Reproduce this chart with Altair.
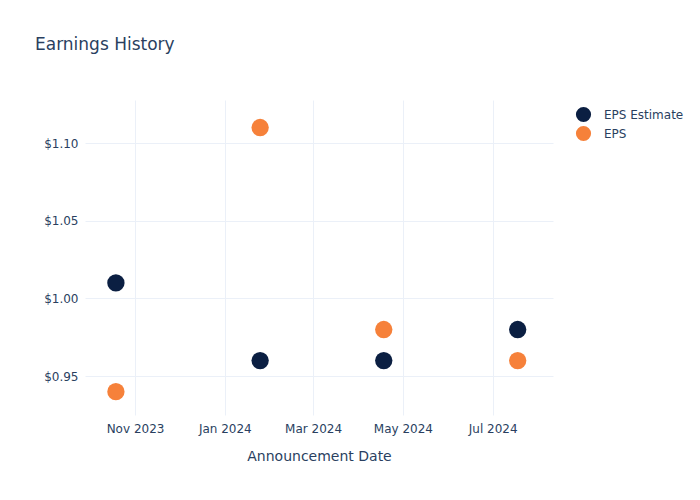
import altair as alt
import pandas as pd

dates = ["2023-10-19", "2024-01-25", "2024-04-18", "2024-07-18"]
eps_estimate = [1.01, 0.96, 0.96, 0.98]
eps_actual = [0.94, 1.11, 0.98, 0.96]
series_names = ["EPS Estimate", "EPS"]
series_colors = ["#0b1f42", "#f6813a"]
y_ticks = [0.95, 1.00, 1.05, 1.10]

rows = []
for d, e, a in zip(dates, eps_estimate, eps_actual):
    rows.append({"date": d, "series": "EPS Estimate", "value": e})
    rows.append({"date": d, "series": "EPS", "value": a})
df = pd.DataFrame(rows)

FONT = "DejaVu Sans"
TXT = "#2a3f5f"
GRID = "#ebf0f8"

x_ticks = [
    alt.DateTime(year=2023, month=11, date=1, utc=True),
    alt.DateTime(year=2024, month=1, date=1, utc=True),
    alt.DateTime(year=2024, month=3, date=1, utc=True),
    alt.DateTime(year=2024, month=5, date=1, utc=True),
    alt.DateTime(year=2024, month=7, date=1, utc=True),
]

chart = (
    alt.Chart(df)
    .mark_circle(opacity=1, size=300)
    .encode(
        x=alt.X(
            "date:T",
            title="Announcement Date",
            scale=alt.Scale(
                type="utc",
                domain=[
                    alt.DateTime(year=2023, month=9, date=28, utc=True),
                    alt.DateTime(year=2024, month=8, date=11, utc=True),
                ],
            ),
            axis=alt.Axis(
                values=x_ticks,
                labelExpr="utcFormat(datum.value, '%b %Y')",
                labelFontSize=12,
                labelColor=TXT,
                labelFont=FONT,
                labelPadding=8,
                titleFont=FONT,
                titleFontSize=14,
                titleColor=TXT,
                titleFontWeight="normal",
                titlePadding=15,
                domain=False,
                ticks=False,
                grid=True,
                gridColor=GRID,
                labelFlush=False,
            ),
        ),
        y=alt.Y(
            "value:Q",
            title=None,
            scale=alt.Scale(domain=[0.925, 1.1277], zero=False, nice=False),
            axis=alt.Axis(
                values=y_ticks,
                format="$.2f",
                labelFontSize=12,
                labelColor=TXT,
                labelFont=FONT,
                labelPadding=7,
                domain=False,
                ticks=False,
                grid=True,
                gridColor=GRID,
            ),
        ),
        color=alt.Color(
            "series:N",
            scale=alt.Scale(domain=series_names, range=series_colors),
            sort=series_names,
            legend=alt.Legend(
                title=None,
                orient="none",
                legendX=490,
                legendY=6,
                labelFont=FONT,
                labelFontSize=12,
                labelColor=TXT,
                symbolSize=230,
                symbolType="circle",
                symbolOpacity=1,
                rowPadding=2,
                labelOffset=12,
            ),
        ),
        order=alt.Order("series:N", sort="ascending"),
    )
    .properties(
        width=468,
        height=315,
        autosize=alt.AutoSizeParams(type="none"),
        padding={"left": 85, "top": 100, "right": 147, "bottom": 85},
        title=alt.TitleParams(
            "Earnings History",
            anchor="start",
            frame="group",
            dx=-50,
            offset=33,
            baseline="alphabetic",
            font=FONT,
            fontSize=17,
            fontWeight="normal",
            color=TXT,
        ),
        background="white",
    )
    .configure_view(stroke=None)
)

chart.save("out.html", embed_options={"renderer": "svg", "actions": False})
